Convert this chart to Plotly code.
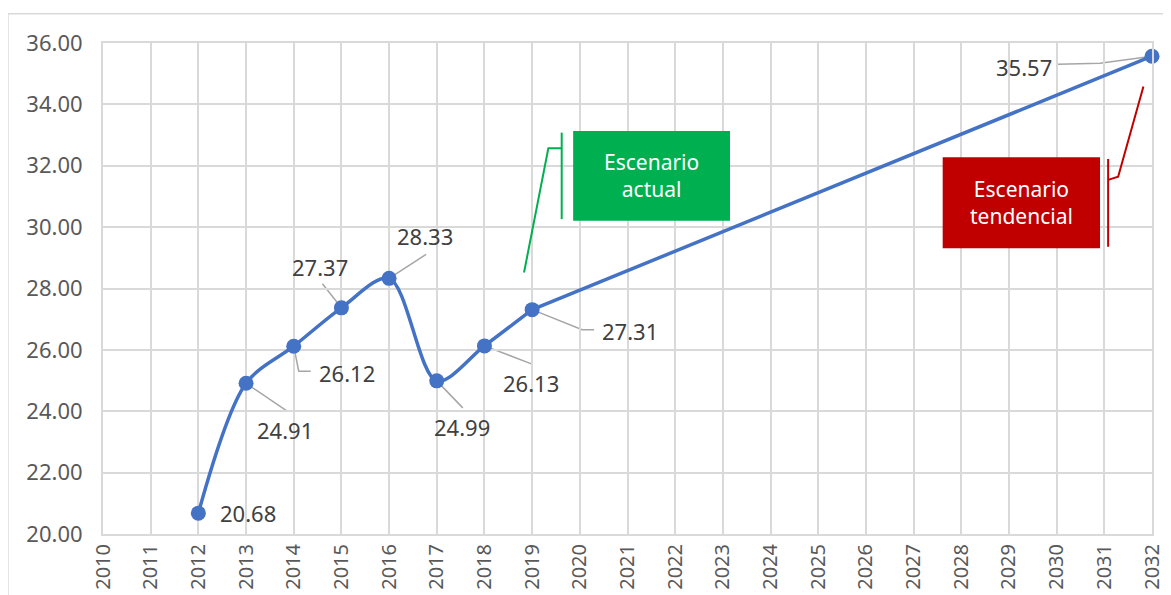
import plotly.graph_objects as go

years = [2012, 2013, 2014, 2015, 2016, 2017, 2018, 2019, 2032]
values = [20.68, 24.91, 26.12, 27.37, 28.33, 24.99, 26.13, 27.31, 35.57]
labels = ['20.68', '24.91', '26.12', '27.37', '28.33', '24.99', '26.13', '27.31', '35.57']
tick_years = list(range(2010, 2033))
y_ticks = [20, 22, 24, 26, 28, 30, 32, 34, 36]

# label offsets (px, screen y down) and leader paths relative to the point
label_pos = {
    2012: (50, 0, None),
    2013: (39, 47, [(0, 0), (40, 27)]),
    2014: (53, 27, [(0, 0), (5, 25), (17, 25)]),
    2015: (-21, -41, [(-19, -24), (0, 0)]),
    2016: (36, -42, [(0, 0), (37, -24)]),
    2017: (25, 46, [(0, 0), (26, 27)]),
    2018: (47, 37, [(0, 0), (47, 18)]),
    2019: (98, 21, [(0, 0), (50, 20), (62, 20)]),
    2032: (-128, 11, [(0, 0), (-52, 7), (-94, 8)]),
}

FONT = 'Noto Sans'
BLUE = '#4472C4'
GRID = '#D9D9D9'

fig = go.Figure()
# smoothed historical part, then the straight projection
fig.add_trace(go.Scatter(
    x=years[:8], y=values[:8], mode='lines',
    line=dict(color=BLUE, width=3.5, shape='spline', smoothing=0.9),
    hoverinfo='skip', showlegend=False))
fig.add_trace(go.Scatter(
    x=years[7:], y=values[7:], mode='lines',
    line=dict(color=BLUE, width=3.5),
    hoverinfo='skip', showlegend=False))
fig.add_trace(go.Scatter(
    x=years, y=values, mode='markers', cliponaxis=False,
    marker=dict(color=BLUE, size=15),
    hoverinfo='skip', showlegend=False))

annotations = []
shapes = []
for yr, val, txt in zip(years, values, labels):
    dx, dy, path = label_pos[yr]
    annotations.append(dict(x=yr, y=val, xref='x', yref='y', text=txt, showarrow=False,
                            xshift=dx, yshift=-dy, font=dict(family=FONT, size=22, color='#404040')))
    if path:
        d = 'M ' + ' L '.join('%g,%g' % (px, -py) for px, py in path)
        shapes.append(dict(type='path', xref='x', yref='y', xsizemode='pixel', ysizemode='pixel',
                           xanchor=yr, yanchor=val, path=d, line=dict(color='#A6A6A6', width=1.5),
                           layer='below'))

# scenario boxes and brackets
shapes += [
    dict(type='rect', xref='x', yref='y', x0=2019.86, x1=2023.15, y0=30.21, y1=33.13,
         fillcolor='#00B050', line=dict(width=0)),
    dict(type='path', xref='x', yref='y', path='M 2019.62,33.08 L 2019.62,30.26',
         line=dict(color='#00B050', width=2)),
    dict(type='path', xref='x', yref='y', path='M 2019.62,32.57 L 2019.34,32.57 L 2018.83,28.52',
         line=dict(color='#00B050', width=2)),
    dict(type='rect', xref='x', yref='y', x0=2027.61, x1=2030.91, y0=29.31, y1=32.28,
         fillcolor='#C00000', line=dict(width=0)),
    dict(type='path', xref='x', yref='y', path='M 2031.08,32.22 L 2031.08,29.36',
         line=dict(color='#C00000', width=2)),
    dict(type='path', xref='x', yref='y', path='M 2031.08,31.54 L 2031.29,31.64 L 2031.82,34.58',
         line=dict(color='#C00000', width=2)),
    # outer chart border
    dict(type='rect', xref='paper', yref='paper', x0=-0.0906, x1=1.05, y0=-0.3, y1=1.0595,
         line=dict(color=GRID, width=1.5), layer='below'),
]
annotations += [
    dict(x=2021.5, y=31.67, xref='x', yref='y', text='Escenario<br>actual', showarrow=False,
         font=dict(family=FONT, size=21, color='white')),
    dict(x=2029.26, y=30.8, xref='x', yref='y', text='Escenario<br>tendencial', showarrow=False,
         font=dict(family=FONT, size=21, color='white')),
]

# page body has an 8px margin, so the figure is sized and offset for that
fig.update_layout(
    width=1163, height=587,
    margin=dict(l=95, r=19, t=35, b=61, autoexpand=False),
    paper_bgcolor='white', plot_bgcolor='white',
    shapes=shapes, annotations=annotations,
    xaxis=dict(range=[2010, 2032], tickvals=tick_years, ticktext=[str(t) for t in tick_years],
               tickangle=-90, showgrid=True, gridcolor=GRID, gridwidth=2, automargin=False,
               showline=True, linecolor=GRID, linewidth=2, mirror=True, zeroline=False,
               tickfont=dict(family=FONT, size=20, color='#595959'), ticks='', ticklen=0),
    yaxis=dict(range=[20, 36], tickvals=y_ticks, ticktext=['%.2f' % v for v in y_ticks],
               showgrid=True, gridcolor=GRID, gridwidth=2, automargin=False,
               showline=True, linecolor=GRID, linewidth=2, mirror=True, zeroline=False,
               ticklabelstandoff=14,
               tickfont=dict(family=FONT, size=22, color='#595959'), ticks=''),
)

fig.write_html('out.html')
